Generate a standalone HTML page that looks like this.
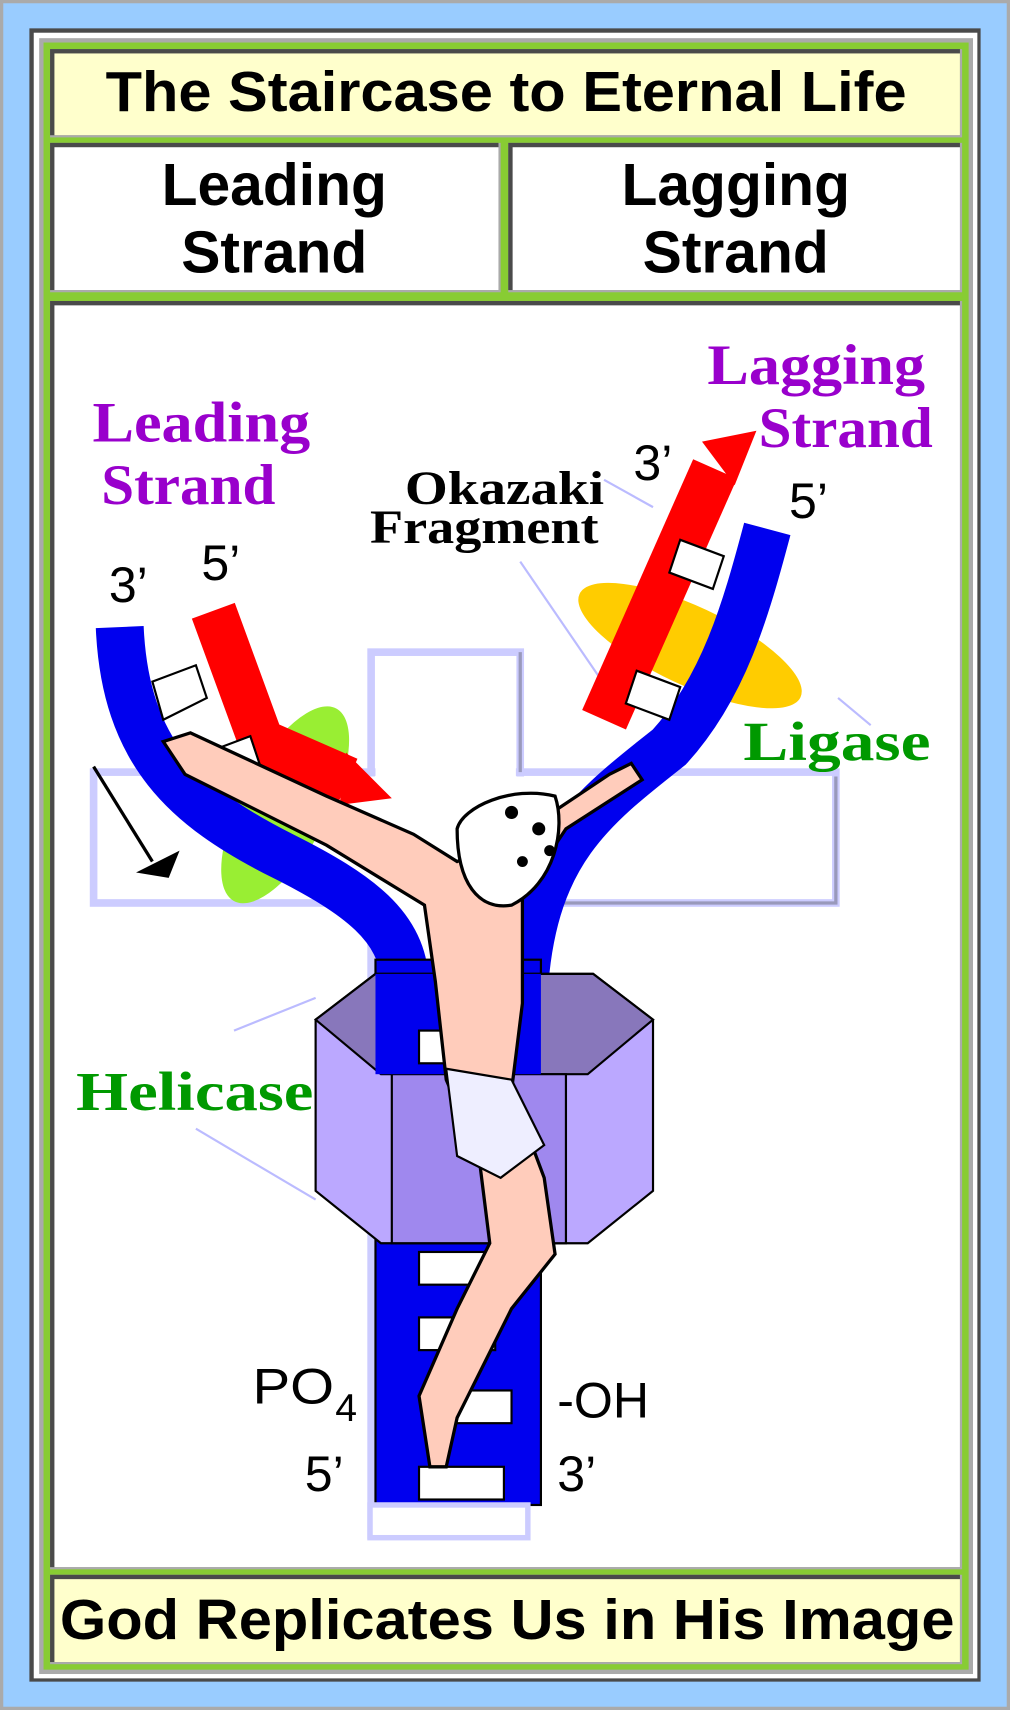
<!DOCTYPE html>
<html><head><meta charset="utf-8"><style>
html,body{margin:0;padding:0;background:#fff}
svg{display:block}
</style></head><body>
<svg width="1010" height="1710" viewBox="0 0 928 1568" preserveAspectRatio="none" xmlns="http://www.w3.org/2000/svg">
<!-- frame -->
<rect x="0" y="0" width="928" height="1568" fill="#aaaaaa"/>
<rect x="3" y="3" width="922" height="1562" fill="#99ccff"/>
<rect x="27" y="26" width="874" height="1516" fill="#4a4a4a"/>
<rect x="31" y="30" width="867" height="1509" fill="#ffffff"/>
<rect x="36" y="35" width="858" height="1500" fill="#aaaaaa"/>
<rect x="40" y="39" width="850" height="1492" fill="#88cc33"/>
<!-- title cell -->
<rect x="46" y="45" width="838" height="81" fill="#aaaaaa"/>
<rect x="46" y="45" width="836" height="79" fill="#4a4a4a"/>
<rect x="50" y="49" width="832" height="75" fill="#ffffcc"/>
<text x="97" y="102" textLength="736" lengthAdjust="spacingAndGlyphs" font-family="Liberation Sans, sans-serif" font-weight="bold" font-size="52">The Staircase to Eternal Life</text>
<!-- row 2 -->
<rect x="46" y="131" width="414" height="137" fill="#aaaaaa"/>
<rect x="46" y="131" width="412" height="135" fill="#4a4a4a"/>
<rect x="50" y="135" width="408" height="131" fill="#fff"/>
<rect x="467" y="131" width="417" height="137" fill="#aaaaaa"/>
<rect x="467" y="131" width="415" height="135" fill="#4a4a4a"/>
<rect x="471" y="135" width="411" height="131" fill="#fff"/>
<g font-family="Liberation Sans, sans-serif" font-weight="bold" font-size="54" text-anchor="middle">
<text x="252" y="188">Leading</text><text x="252" y="250">Strand</text>
<text x="676" y="188">Lagging</text><text x="676" y="250">Strand</text>
</g>
<!-- row 3 -->
<rect x="46" y="276" width="838" height="1163" fill="#aaaaaa"/>
<rect x="46" y="276" width="836" height="1161" fill="#4a4a4a"/>
<rect x="50" y="280" width="832" height="1157" fill="#fff"/>
<!-- row 4 -->
<rect x="46" y="1444" width="838" height="82" fill="#aaaaaa"/>
<rect x="46" y="1444" width="836" height="80" fill="#4a4a4a"/>
<rect x="50" y="1448" width="832" height="76" fill="#ffffcc"/>
<text x="55" y="1503" textLength="822" lengthAdjust="spacingAndGlyphs" font-family="Liberation Sans, sans-serif" font-weight="bold" font-size="52">God Replicates Us in His Image</text>

<!-- cross -->
<g fill="none" stroke="#ccccff" stroke-width="7">
<rect x="341" y="598" width="137" height="810"/>
<rect x="86" y="708" width="682" height="120"/>
</g>
<g fill="#fff"><rect x="345" y="602" width="129" height="800"/><rect x="90" y="712" width="674" height="112"/></g>
<g stroke="#9999bb" stroke-width="3" fill="none"><path d="M478,598 V708 M768,712 V828 H478 V1408 H345"/></g>

<!-- guide lines -->
<g stroke="#bbbbff" stroke-width="2" fill="none">
<path d="M478,515 L550,620"/><path d="M555,440 L600,465"/>
<path d="M770,640 L800,665"/><path d="M215,945 L290,915"/><path d="M180,1035 L290,1100"/>
</g>
<path d="M86,703 L140,790" stroke="#000" stroke-width="3"/>
<polygon points="125,800 165,780 155,805" fill="#000"/>

<!-- yellow ligase -->
<ellipse cx="634" cy="592" rx="112" ry="36" transform="rotate(25 634 592)" fill="#ffcc00"/>
<!-- green -->
<ellipse cx="262" cy="738" rx="100" ry="40" transform="rotate(-62 262 738)" fill="#99ee33"/>

<!-- blue Y -->
<g fill="none" stroke="#0000ee" stroke-linecap="butt">
<path d="M110,575 C115,690 170,740 260,785 C330,820 370,850 372,900" stroke-width="44"/>
<path d="M705,485 C685,560 665,630 615,685 C545,740 492,780 482,900" stroke-width="44"/>
</g>
<rect x="345" y="880" width="152" height="500" fill="#0000ee" stroke="#000" stroke-width="2"/>
<!-- red strands -->
<path d="M196,560 L240,680 L320,715" fill="none" stroke="#ff0000" stroke-width="42"/>
<polygon points="318,690 360,732 312,738" fill="#ff0000"/>
<path d="M657,430 L555,660" fill="none" stroke="#ff0000" stroke-width="44"/>
<polygon points="645,405 695,395 675,445" fill="#ff0000"/>
<!-- rungs -->
<g fill="#fff" stroke="#000" stroke-width="2">
<polygon points="140,625 180,610 190,640 150,660"/>
<polygon points="190,690 230,675 240,705 200,720"/>
<polygon points="625,495 665,510 655,540 615,525"/>
<polygon points="585,615 625,630 615,660 575,645"/>
<rect x="385" y="945" width="70" height="30"/>
<rect x="385" y="1148" width="85" height="30"/>
<rect x="385" y="1208" width="70" height="30"/>
<rect x="400" y="1275" width="70" height="30"/>
<rect x="385" y="1345" width="78" height="30"/>
</g>
<rect x="340" y="1380" width="145" height="30" fill="#fff" stroke="#ccccff" stroke-width="5"/>

<!-- helicase hexagon -->
<polygon points="290,935 345,893 545,893 600,935 600,1092 540,1140 350,1140 290,1092" fill="#bba8ff" stroke="#000" stroke-width="2"/>
<polygon points="290,935 345,893 545,893 600,935 540,985 350,985" fill="#8877bb" stroke="#000" stroke-width="2"/>
<polygon points="360,985 520,985 520,1140 360,1140" fill="#9f88ee" stroke="#000" stroke-width="2"/>
<rect x="345" y="893" width="152" height="92" fill="#0000ee"/>
<rect x="385" y="945" width="70" height="30" fill="#fff" stroke="#000" stroke-width="2"/>

<!-- figure -->
<g fill="#ffccbb" stroke="#000" stroke-width="3">
<polygon points="150,680 175,672 300,730 380,765 420,790 470,770 560,710 580,700 590,715 520,760 480,820 480,920 470,1000 500,1080 510,1150 470,1200 440,1260 420,1300 410,1345 395,1345 385,1280 420,1200 450,1140 440,1060 410,990 400,900 390,830 300,775 170,710"/>
</g>
<path d="M420,760 C425,740 470,720 510,730 C520,760 510,810 470,830 C440,835 420,810 420,760Z" fill="#fff" stroke="#000" stroke-width="3"/>
<g fill="#000"><circle cx="470" cy="745" r="6"/><circle cx="495" cy="760" r="6"/><circle cx="480" cy="790" r="5"/><circle cx="505" cy="780" r="5"/></g>
<path d="M410,980 L470,990 L500,1050 L460,1080 L420,1060Z" fill="#eeeeff" stroke="#000" stroke-width="2"/>

<!-- labels -->
<g font-family="Liberation Serif, serif" font-weight="bold" fill="#9900cc" font-size="52">
<text x="85" y="405" textLength="200" lengthAdjust="spacingAndGlyphs">Leading</text>
<text x="93" y="462" textLength="160" lengthAdjust="spacingAndGlyphs">Strand</text>
<text x="650" y="352" textLength="200" lengthAdjust="spacingAndGlyphs">Lagging</text>
<text x="697" y="410" textLength="160" lengthAdjust="spacingAndGlyphs">Strand</text>
</g>
<g font-family="Liberation Serif, serif" font-weight="bold" fill="#000" font-size="44">
<text x="372" y="462" textLength="183" lengthAdjust="spacingAndGlyphs">Okazaki</text>
<text x="340" y="498" textLength="210" lengthAdjust="spacingAndGlyphs">Fragment</text>
</g>
<g font-family="Liberation Serif, serif" font-weight="bold" fill="#009900" font-size="50">
<text x="683" y="697" textLength="172" lengthAdjust="spacingAndGlyphs">Ligase</text>
<text x="70" y="1018" textLength="218" lengthAdjust="spacingAndGlyphs">Helicase</text>
</g>
<g font-family="Liberation Sans, sans-serif" fill="#000" font-size="46">
<text x="100" y="552">3’</text><text x="185" y="532">5’</text>
<text x="582" y="440">3’</text><text x="725" y="475">5’</text>
<text x="232" y="1287" textLength="75" lengthAdjust="spacingAndGlyphs">PO</text><text x="308" y="1303" font-size="36">4</text>
<text x="512" y="1300">-OH</text>
<text x="280" y="1367">5’</text><text x="512" y="1367">3’</text>
</g>
</svg>
</body></html>
